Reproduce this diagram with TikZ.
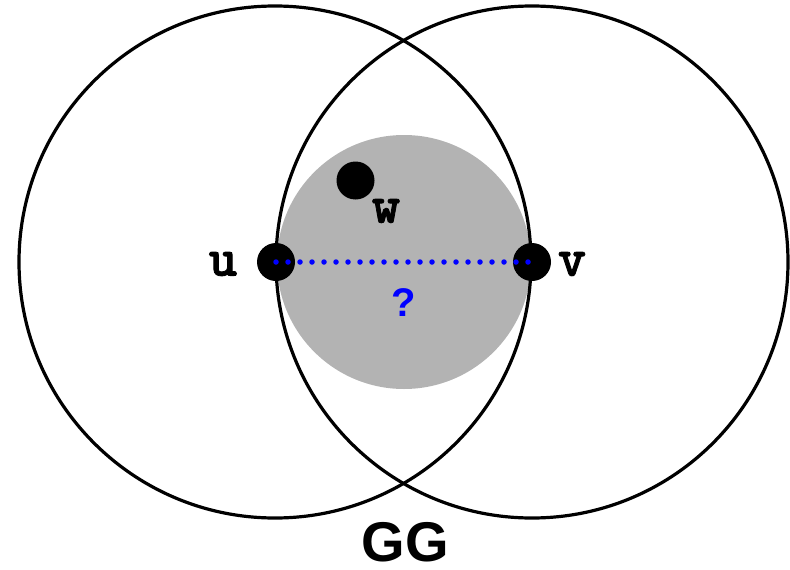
\documentclass[tikz,border=0pt]{standalone}
\usepackage{fontspec}
\setmainfont{Liberation Sans}
\newfontfamily\monofont{Latin Modern Mono Light}[FakeBold=1.6]
\usetikzlibrary{positioning}
\definecolor{diskgray}{RGB}{179,179,179}
\definecolor{qblue}{RGB}{0,0,255}

\begin{document}
\begin{tikzpicture}[x=1pt, y=-1pt,
      vertex/.style={circle, fill=black, minimum size=38pt, inner sep=0pt},
      lbl/.style={font=\monofont\bfseries\fontsize{54}{54}\selectfont, inner sep=0pt},
      rim/.style={line width=3.2pt, black},
      probe/.style={qblue, line width=5.5pt, line cap=round, dash pattern=on 0pt off 12pt}]
    \useasboundingbox (0,0) rectangle (790,570);
    % neighbourhood disk and the two circles
    \fill[diskgray] (404,262) circle[radius=127];
    \draw[rim] (275,262) circle[radius=256];
    \draw[rim] (532,262) circle[radius=256];
    % vertices
    \node[vertex] (u) at (276,262) {};
    \node[vertex] (v) at (532,262) {};
    \node[vertex] (w) at (355.5,180.5) {};
    \node[lbl] (ulbl) at (223,264) {u};
    \node[lbl] (vlbl) at (572,264) {v};
    \node[lbl] (wlbl) at (386,211) {w};
    % the questioned edge
    \draw[probe] (u.center) -- (v.center);
    \node[qblue, font=\bfseries\fontsize{40}{40}\selectfont, inner sep=0pt] (q) at (404,303) {?};
    \node[font=\bfseries\fontsize{56}{56}\selectfont, inner sep=0pt, anchor=base] (title) at (405,561) {GG};
\end{tikzpicture}
\end{document}
